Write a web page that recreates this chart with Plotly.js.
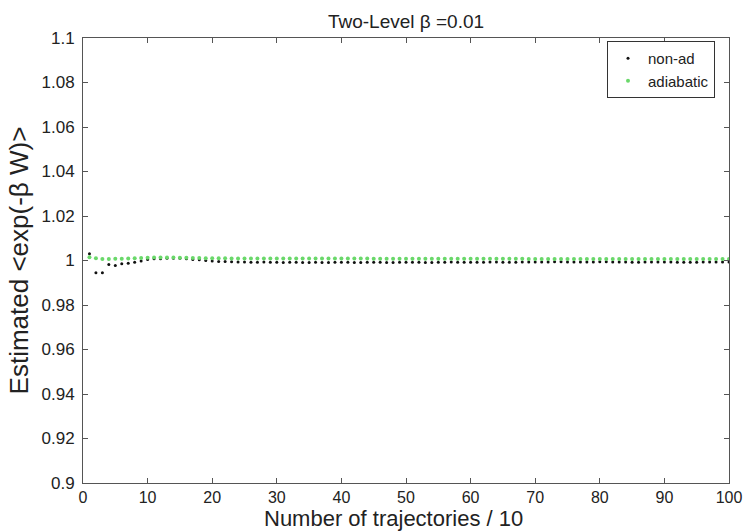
<!DOCTYPE html>
<html>
<head>
<meta charset="utf-8">
<script src="https://cdn.plot.ly/plotly-3.0.1.min.js"></script>
<style>
  html, body { margin: 0; padding: 0; background: #fff; }
  #chart { width: 746px; height: 532px; }
</style>
</head>
<body>
<div id="chart"></div>
<script>
// Sample index: number of trajectories / 10
const trajCount = Array.from({length: 100}, (_, i) => i + 1);

// Running estimate of <exp(-beta W)> for the non-adiabatic protocol
const nonAdiabatic = [
  1.0030, 0.9945, 0.9945, 0.9982, 0.9978, 0.9985, 0.9988, 0.9992, 0.9998, 1.0005,
  1.0008, 1.0008, 1.0010, 1.0010, 1.0010, 1.0008, 1.0005, 1.0003, 1.0000, 0.9998,
  0.9996, 0.9995, 0.9994, 0.9993, 0.9993, 0.9992, 0.9992, 0.9993, 0.9992, 0.9992,
  0.9991, 0.9992, 0.9992, 0.9991, 0.9991, 0.9992, 0.9991, 0.9991, 0.9992, 0.9992,
  0.9992, 0.9991, 0.9991, 0.9992, 0.9992, 0.9992, 0.9991, 0.9991, 0.9992, 0.9992,
  0.9992, 0.9992, 0.9991, 0.9991, 0.9992, 0.9992, 0.9993, 0.9992, 0.9992, 0.9992,
  0.9992, 0.9992, 0.9993, 0.9993, 0.9992, 0.9992, 0.9992, 0.9993, 0.9993, 0.9993,
  0.9993, 0.9993, 0.9994, 0.9994, 0.9993, 0.9993, 0.9993, 0.9993, 0.9993, 0.9994,
  0.9994, 0.9993, 0.9993, 0.9993, 0.9992, 0.9992, 0.9993, 0.9993, 0.9993, 0.9993,
  0.9993, 0.9992, 0.9992, 0.9992, 0.9992, 0.9993, 0.9993, 0.9993, 0.9993, 0.9993
];

// Running estimate of <exp(-beta W)> for the adiabatic protocol
const adiabatic = [
  1.0015, 1.0010, 1.0007, 1.0007, 1.0008, 1.0008, 1.0009, 1.0010, 1.0011, 1.0012,
  1.0013, 1.0013, 1.0013, 1.0013, 1.0012, 1.0012, 1.0011, 1.0011, 1.0010, 1.0010,
  1.0010, 1.0010, 1.0009, 1.0009, 1.0009, 1.0009, 1.0009, 1.0009, 1.0009, 1.0009,
  1.0009, 1.0009, 1.0009, 1.0009, 1.0009, 1.0009, 1.0009, 1.0009, 1.0009, 1.0009,
  1.0009, 1.0009, 1.0009, 1.0009, 1.0008, 1.0008, 1.0008, 1.0008, 1.0008, 1.0008,
  1.0008, 1.0008, 1.0008, 1.0008, 1.0008, 1.0008, 1.0008, 1.0008, 1.0008, 1.0008,
  1.0008, 1.0008, 1.0008, 1.0008, 1.0008, 1.0008, 1.0008, 1.0008, 1.0007, 1.0007,
  1.0007, 1.0007, 1.0007, 1.0007, 1.0007, 1.0007, 1.0007, 1.0007, 1.0007, 1.0007,
  1.0007, 1.0007, 1.0007, 1.0007, 1.0007, 1.0007, 1.0007, 1.0007, 1.0007, 1.0007,
  1.0007, 1.0007, 1.0007, 1.0007, 1.0007, 1.0007, 1.0007, 1.0007, 1.0007, 1.0007
];

// Axis ticks
const xTickVals = [0, 10, 20, 30, 40, 50, 60, 70, 80, 90, 100];
const yTickVals = [0.9, 0.92, 0.94, 0.96, 0.98, 1.0, 1.02, 1.04, 1.06, 1.08, 1.1];
const yTickText = ['0.9', '0.92', '0.94', '0.96', '0.98', '1', '1.02', '1.04', '1.06', '1.08', '1.1'];

const FONT = 'Liberation Sans, Arial, Helvetica, sans-serif';
const AXIS_COLOR = '#555';

// Plot-area geometry in pixels, used to place the free-standing x label
const PLOT_LEFT = 83, PLOT_WIDTH = 646, PLOT_TOP = 38, PLOT_HEIGHT = 445;

const traces = [
  {
    x: trajCount, y: nonAdiabatic, name: 'non-ad',
    type: 'scatter', mode: 'markers',
    marker: {color: '#111', size: 3}
  },
  {
    x: trajCount, y: adiabatic, name: 'adiabatic',
    type: 'scatter', mode: 'markers',
    marker: {color: '#6ad86a', size: 4}
  }
];

const axisCommon = {
  showgrid: false, zeroline: false,
  showline: true, linecolor: AXIS_COLOR, linewidth: 1,
  mirror: 'ticks', ticks: 'inside', ticklen: 5, tickcolor: AXIS_COLOR,
  tickfont: {family: FONT, size: 16, color: '#222'}
};

const layout = {
  width: 746, height: 532,
  margin: {l: PLOT_LEFT, r: 746 - PLOT_LEFT - PLOT_WIDTH, t: PLOT_TOP, b: 532 - PLOT_TOP - PLOT_HEIGHT},
  paper_bgcolor: '#fff', plot_bgcolor: '#fff',
  font: {family: FONT, color: '#222'},
  showlegend: true,
  title: {
    text: 'Two-Level \u03b2 =0.01',
    font: {family: FONT, size: 19, color: '#222'},
    xref: 'paper', x: 0.5, xanchor: 'center',
    yref: 'container', y: 1 - 21 / 532, yanchor: 'middle'
  },
  xaxis: Object.assign({}, axisCommon, {
    range: [0, 100], tickvals: xTickVals, ticklabelstandoff: 0
  }),
  yaxis: Object.assign({}, axisCommon, {
    range: [0.9, 1.1], tickvals: yTickVals, ticktext: yTickText, ticklabelstandoff: 4,
    tickfont: {family: FONT, size: 17, color: '#222'},
    title: {text: 'Estimated &lt;exp(-\u03b2 W)&gt;', font: {family: FONT, size: 26, color: '#222'}, standoff: 5}
  }),
  annotations: [{
    text: 'Number of trajectories / 10',
    xref: 'paper', x: (393 - PLOT_LEFT) / PLOT_WIDTH, xanchor: 'center',
    yref: 'paper', y: -(518.5 - (PLOT_TOP + PLOT_HEIGHT)) / PLOT_HEIGHT, yanchor: 'middle',
    showarrow: false, borderpad: 0,
    font: {family: FONT, size: 22, color: '#222'}
  }],
  legend: {
    x: (607 - PLOT_LEFT) / PLOT_WIDTH, xanchor: 'left',
    y: 1 - (41 - PLOT_TOP) / PLOT_HEIGHT, yanchor: 'top',
    bgcolor: '#fff', bordercolor: '#333', borderwidth: 1,
    font: {family: FONT, size: 15, color: '#222'},
    tracegroupgap: 0
  }
};

Plotly.newPlot('chart', traces, layout, {staticPlot: true, displayModeBar: false});
</script>
</body>
</html>
